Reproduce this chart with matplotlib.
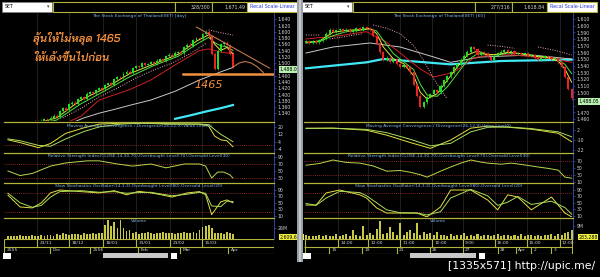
import numpy as np
import matplotlib
matplotlib.use("Agg")
import matplotlib.pyplot as plt
from matplotlib.patches import Rectangle
from matplotlib.transforms import blended_transform_factory
from matplotlib import font_manager

# ---------------- data: left panel (daily) ----------------
L_close = [1296, 1291, 1299, 1304, 1297, 1301, 1307, 1302, 1309, 1314,
           1309, 1316, 1320, 1317, 1326, 1332, 1328, 1346, 1355, 1351,
           1368, 1374, 1370, 1384, 1391, 1386, 1402, 1407, 1403, 1414,
           1419, 1416, 1430, 1436, 1431, 1448, 1455, 1452, 1466, 1473,
           1469, 1484, 1491, 1488, 1500, 1494, 1497, 1503, 1499, 1508,
           1512, 1507, 1522, 1527, 1524, 1533, 1536, 1531, 1550, 1559,
           1556, 1573, 1580, 1577, 1592, 1600, 1585, 1530, 1482, 1540,
           1560, 1565, 1558, 1530, 1488]
L_volume = [7, 8, 6, 7, 9, 8, 7, 8, 9, 7, 8, 9, 8, 10, 9, 8, 11, 10,
            13, 11, 10, 12, 11, 12, 10, 13, 12, 11, 14, 12, 13, 15,
            34, 44, 30, 39, 25, 44, 26, 18, 21,
            14, 16, 12, 15, 13, 17, 14, 12, 15, 13, 16, 14, 13, 15, 12, 14, 13, 16, 15, 14, 17, 15,
            22, 28, 30, 34, 26,
            15, 13, 14, 12, 16, 13, 11]

L_ma_idx = [0, 8, 16, 24, 32, 40, 48, 56, 62, 66, 68, 70, 72, 74]
L_ma_fast = [1295, 1303, 1325, 1382, 1420, 1466, 1497, 1528, 1570, 1590, 1560, 1540, 1550, 1530]
L_ma_mid = [1292, 1300, 1318, 1370, 1412, 1456, 1492, 1522, 1560, 1582, 1565, 1555, 1552, 1540]
L_red_idx = [0, 8, 16, 24, 30, 40, 47, 56, 63, 66, 70, 74]
L_red = [1270, 1280, 1295, 1330, 1382, 1415, 1446, 1500, 1540, 1545, 1535, 1530]
L_grey_idx = [20, 25, 30, 35, 40, 47, 55, 63, 70, 74]
L_grey = [1305, 1325, 1340, 1352, 1365, 1382, 1410, 1446, 1472, 1486]
L_cyan_idx = [55, 60, 65, 70, 74]
L_cyan = [1322, 1333, 1345, 1356, 1366]
L_sar_idx = [18, 24, 30, 36, 42, 48, 54, 60, 65, np.nan, 66, 68, 70, 72, 74]
L_sar = [1325, 1355, 1392, 1420, 1452, 1478, 1500, 1530, 1562, np.nan, 1606, 1601, 1597, 1593, 1589]
L_trend_idx = [62, 86]
L_trend = [1615, 1484]
L_proj_idx = [74, 76, 78, 80, 82, 84]
L_proj = [1487, 1500, 1505, 1500, 1488, 1470]
L_support = 1465

L_macd_idx = [0, 4, 10, 14, 19, 25, 30, 37, 44, 53, 63, 66, 68, 70, 72, 74]
L_macd = [6, 3, -2.5, 2, 13, 19, 23, 24, 24, 23, 23, 21, 10, 6, 5, -1.5]
L_macd_sig = [7, 5, 0, -1, 7, 15, 20, 23, 24, 23.5, 23, 22.5, 17, 12, 8, 4]
L_rsi_idx = [0, 4, 8, 14, 19, 26, 30, 36, 41, 47, 52, 58, 63, 65, 67, 69, 71, 73, 74]
L_rsi = [50, 37, 43, 64, 73, 79, 79, 70, 64, 70, 59, 70, 70, 64, 30, 47, 47, 39, 30]
L_st_idx = [0, 4, 8, 11, 14, 17, 24, 30, 35, 39, 43, 47, 50, 54, 59, 63, 65, 67, 70, 72, 74]
L_stk = [74, 37, 34, 50, 81, 90, 85, 81, 88, 75, 86, 81, 76, 68, 81, 85, 75, 13, 53, 59, 50]
L_std = [80, 50, 36, 42, 68, 85, 88, 83, 85, 80, 82, 83, 78, 72, 77, 83, 80, 40, 38, 55, 54]

L_row1_pos = [9.5, 20, 31.2, 42.1, 53.3, 63.8]
L_row1_lab = ["23/11", "18/12", "18/01", "31/01", "21/02", "15/03"]
L_row2_pos = [-1.3, 13.8, 27, 42.8, 56.6, 72.4]
L_row2_lab = ["2555", "Dec", "2556", "Feb", "Mar", "Apr"]

# ---------------- data: right panel (60 min) ----------------
R_close = [1576, 1574, 1577, 1575, 1578, 1580, 1588, 1594, 1591, 1593,
           1595, 1592, 1594, 1591, 1593, 1596, 1594, 1598, 1596, 1594,
           1585, 1574, 1560, 1549, 1552, 1546, 1550, 1543, 1538, 1541,
           1538, 1530, 1511, 1495, 1478, 1485, 1493, 1497, 1503, 1500,
           1510, 1518, 1524, 1530, 1538, 1542, 1549, 1555, 1561, 1568,
           1565, 1556, 1560, 1559, 1553, 1549, 1555, 1559, 1561, 1563,
           1560, 1562, 1558, 1559, 1557, 1559, 1555, 1556, 1552, 1549,
           1551, 1554, 1553, 1550, 1551, 1545, 1538, 1523, 1505, 1491]
R_volume = [2.5, 2, 1.8, 2.2, 3, 2, 2.5, 1.9, 2.4, 3.2,
            2, 2.6, 3.5, 2.2, 6, 3, 2.4, 9, 2.6, 4,
            3, 7, 12.5, 3.5, 4, 8, 5, 3, 11, 3,
            4.5, 6, 4, 11, 3, 5, 3.5, 4, 3, 5,
            2.5, 3, 2.2, 3.5, 2, 3, 2.6, 4, 2.2, 3,
            2.4, 3.6, 2, 2.8, 3, 2.2, 2.5, 3.4, 2, 2.6,
            3, 2.2, 2.8, 2, 3.2, 2.4, 2.6, 3, 2.2, 2.8,
            2.4, 3, 2.6, 3.2, 2.2, 3.5, 3, 4, 5, 6]

R_ma_idx = [0, 4, 8, 12, 16, 19, 21, 23, 26, 29, 32, 34, 36, 39, 42, 45, 48, 51, 54, 57, 60, 64, 68, 72, 75, 77, 79]
R_ma_fast = [1575, 1577, 1590, 1593, 1594, 1596, 1588, 1568, 1550, 1543, 1525, 1500, 1490, 1498, 1518, 1538,
             1556, 1562, 1556, 1557, 1560, 1558, 1554, 1552, 1547, 1535, 1515]
R_ma_mid = [1574, 1576, 1585, 1591, 1593, 1595, 1592, 1578, 1558, 1546, 1534, 1512, 1496, 1494, 1508, 1528,
            1548, 1558, 1557, 1556, 1559, 1558, 1555, 1553, 1549, 1542, 1528]
R_red_idx = [0, 10, 18, 24, 28, 34, 38, 44, 50, 56, 62, 68, 74, 79]
R_red = [1580, 1585, 1591, 1575, 1559, 1535, 1523, 1530, 1552, 1557, 1556, 1553, 1550, 1545]
R_grey_idx = [0, 8, 19, 28, 38, 43, 52, 67, 79]
R_grey = [1559, 1568, 1574, 1568, 1553, 1545, 1553, 1556, 1550]
R_cyan_idx = [0, 18, 23, 38, 43, 58, 79]
R_cyan = [1536, 1545, 1550, 1544, 1542, 1547, 1549]
R_sar_idx = [0, 2, 4, np.nan, 7, 12, 17, np.nan, 20, 24, 28, 32, 35, 38, 42, np.nan, 54, 58, 62, np.nan, 69, 74, 79]
R_sar = [1586, 1586, 1586, np.nan, 1580, 1584, 1588, np.nan, 1601, 1596, 1588, 1570, 1548, 1520, 1490, np.nan,
         1571, 1569, 1566, np.nan, 1568, 1563, 1556]

R_macd_idx = [0, 8, 18, 24, 31, 37, 43, 49, 54, 60, 67, 75, 79]
R_macd = [4.5, 4.5, 2, -4, -13, -20, -10, 4.5, 7, 5.7, 3.2, -1.7, -12]
R_macd_sig = [4, 4.5, 3, -1, -9, -17, -14, 0, 5.5, 6, 4, 0, -6]
R_rsi_idx = [0, 4, 8, 12, 16, 20, 24, 28, 31, 34, 36, 40, 43, 46, 49, 52, 54, 58, 61, 65, 69, 72, 75, 77, 79]
R_rsi = [57, 62, 72, 65, 63, 55, 40, 42, 37, 30, 23, 40, 52, 63, 72, 66, 63, 60, 63, 58, 52, 48, 43, 23, 20]
R_st_idx = [0, 3, 6, 10, 16, 18, 21, 24, 28, 33, 36, 40, 43, 49, 54, 57, 60, 63, 67, 73, 77, 79]
R_stk = [43, 43, 81, 90, 75, 65, 34, 18, 18, 18, 6, 37, 90, 90, 59, 28, 75, 68, 28, 68, 18, 6]
R_std = [48, 42, 65, 86, 82, 72, 50, 28, 19, 18, 12, 22, 65, 92, 72, 42, 52, 70, 45, 55, 35, 14]

R_row1_pos = [9.5, 18.4, 27.9, 37.4, 46.6, 56.1, 65.6, 75.4]
R_row1_lab = ["14:00", "12:00", "11:00", "10:00", "9:00", "16:00", "15:00", "12:00"]
R_row2_pos = [6.8, 16.6, 27, 36.8, 46.6, 57, 62.3, 67, 73]
R_row2_lab = ["15", "19", "21", "26", "27", "28", "Apr", "2", "3"]

# ---------------- style ----------------
W, H = 600, 277
OLIVE = "#b4b43c"
GRID = "#2c2c2c"
TICKC = "#d4d4d4"
AXBLUE = "#3450b4"
TITLEC = "#7fb6ee"
GREEN, RED = "#22dd22", "#ee2222"

names = {f.name for f in font_manager.fontManager.ttflist}
thai = next((n for n in ["Bai Jamjuree", "Chakra Petch", "Athiti", "Noto Sans Thai", "Sarabun"]
             if n in names), "DejaVu Sans")

fig = plt.figure(figsize=(6, 2.77), dpi=100, facecolor="black")


def box(x0, y0, x1, y1):
    return [x0 / W, 1 - y1 / H, (x1 - x0) / W, (y1 - y0) / H]


def rect(x0, y0, x1, y1, fc, ec="none", lw=0.6):
    fig.add_artist(Rectangle((x0 / W, 1 - y1 / H), (x1 - x0) / W, (y1 - y0) / H,
                             transform=fig.transFigure, facecolor=fc, edgecolor=ec, linewidth=lw))


def ftext(x, y, s, **kw):
    fig.text(x / W, 1 - y / H, s, **kw)


def pane(px0, px1, y0, y1, xlim, ylim, ticks, labels, title, seps, border=True):
    ax = fig.add_axes(box(px0, y0, px1, y1))
    ax.set_facecolor("black")
    ax.set_xlim(*xlim)
    ax.set_ylim(*ylim)
    ax.spines["left"].set_visible(False)
    ax.spines["bottom"].set_visible(False)
    ax.spines["top"].set_color(OLIVE if border else "black")
    ax.spines["top"].set_linewidth(0.9)
    ax.spines["right"].set_color(AXBLUE)
    ax.spines["right"].set_linestyle((0, (1, 1)))
    ax.spines["right"].set_linewidth(0.6)
    ax.set_xticks([])
    ax.yaxis.tick_right()
    ax.set_yticks(ticks)
    ax.set_yticklabels(labels)
    ax.tick_params(axis="y", length=1.5, width=0.5, color=AXBLUE, labelsize=3.3,
                   labelcolor=TICKC, pad=1)
    for s in seps:
        ax.axvline(s, color=GRID, lw=0.5, zorder=0)
    if title:
        ax.text(0.5, 1 - 1.5 / (y1 - y0), title, transform=ax.transAxes, ha="center",
                va="top", fontsize=3.2, color=TITLEC)
    return ax


def price_labels(ticks, hidden):
    return ["" if t in hidden else f"{t:,}" for t in ticks]


def candles(ax, closes, wick):
    c = np.array(closes, float)
    o = np.r_[c[0], c[:-1]]
    x = np.arange(len(c))
    col = np.where(c >= o, GREEN, RED)
    lo, hi = np.minimum(o, c), np.maximum(o, c)
    ax.vlines(x, lo - wick, hi + wick, colors=col, lw=0.5, zorder=3)
    ax.bar(x, np.maximum(hi - lo, wick * 0.4), bottom=lo, width=0.62, color=col, lw=0, zorder=3)


def side_box(ax, y, s, fc):
    tr = blended_transform_factory(ax.transAxes, ax.transData)
    ax.text(1.02, y, s, transform=tr, ha="left", va="center", fontsize=3.3, color="black",
            bbox=dict(facecolor=fc, edgecolor="none", pad=0.5), clip_on=False, zorder=5)


def osc(ax, idx, a, b):
    ax.plot(idx, a, color="#e4e040", lw=0.7)
    ax.plot(idx, b, color="#a8dc5a", lw=0.7)


def date_band(px0, px1, xlim, p1, l1, p2, l2, off):
    ax = fig.add_axes(box(px0, 239, px1, 254))
    ax.set_axis_off()
    ax.set_xlim(*xlim)
    ax.set_ylim(0, 2)
    ax.hlines([0.06, 1, 1.94], xlim[0], xlim[1], color=OLIVE, lw=0.8)
    ax.vlines([xlim[0] + 0.15, xlim[1] - 0.15], 0, 2, color=OLIVE, lw=0.8)
    ax.vlines(p1, 1, 2, color=OLIVE, lw=0.8)
    ax.vlines(p2, 0, 1, color=OLIVE, lw=0.8)
    for p, s in zip(p1, l1):
        ax.text(p + off, 1.5, s, va="center", fontsize=3.2, color=TICKC)
    for p, s in zip(p2, l2):
        ax.text(p + off, 0.5, s, va="center", fontsize=3.2, color=TICKC)


def toolbar(x0, count, last):
    rect(x0 + 2, 2, x0 + 52, 12, "white", "#808080")
    ftext(x0 + 5, 7, "SET", fontsize=3.4, color="black", va="center")
    ftext(x0 + 48, 7, "\u25be", fontsize=3.4, color="#404040", va="center", ha="center")
    rect(x0 + 53, 2, x0 + 175, 12, "black", OLIVE, 0.8)
    rect(x0 + 175, 2, x0 + 212, 12, "black", OLIVE, 0.8)
    rect(x0 + 212, 2, x0 + 247, 12, "black", OLIVE, 0.8)
    rect(x0 + 247, 2, x0 + 297, 12, "white", OLIVE, 0.8)
    ftext(x0 + 210, 7, count, fontsize=3.4, color=TICKC, va="center", ha="right")
    ftext(x0 + 245, 7, last, fontsize=3.4, color=TICKC, va="center", ha="right")
    ftext(x0 + 272, 7, "Recal Scale-Linear", fontsize=3.5, color="#2a3ad8", va="center", ha="center")


def scroll_row(x0, t0, t1):
    rect(x0 + 3, 253, x0 + 11, 259, "white")
    rect(x0 + t0, 253, x0 + t1, 258, "#c8c8c8")
    rect(x0 + t1 + 3, 253, x0 + t1 + 9, 259, "white")


# ---------------- left panel ----------------
L_xlim = (-1.3, 87.5)
LX0, LX1 = 4, 274
seps_L = L_row1_pos
toolbar(0, "328/300", "1,671.49")

L_ticks = list(range(1340, 1641, 20))
ax = pane(LX0, LX1, 12, 121, L_xlim, (1315, 1663), L_ticks, price_labels(L_ticks, {1480}),
          "The Stock Exchange of Thailand(SET) [day]", seps_L, border=False)
ax.plot(L_cyan_idx, L_cyan, color="#40e8f4", lw=1.6, zorder=2)
ax.plot(L_grey_idx, L_grey, color="#c8c8c8", lw=0.7, zorder=2)
ax.plot(L_red_idx, L_red, color="#d02020", lw=0.7, zorder=2)
ax.plot(L_sar_idx, L_sar, color="#e8a8b8", lw=0.7, ls=(0, (1, 1.5)), zorder=2)
ax.plot(L_ma_idx, L_ma_mid, color="#50e040", lw=0.7, zorder=2)
ax.plot(L_ma_idx, L_ma_fast, color="#e8e040", lw=0.7, zorder=2)
candles(ax, L_close, 4)
ax.plot(L_trend_idx, L_trend, color="#c07850", lw=0.8, zorder=4)
ax.plot(L_proj_idx, L_proj, color="#c07850", lw=0.8, zorder=4)
ax.plot([57.6, 87.2], [L_support, L_support], color="#f29040", lw=1.8, zorder=4)
ax.text(61.5, 1431, "1465", fontsize=8, style="italic", color="#f29040", va="center", zorder=5)
side_box(ax, 1480, "1,488.05", "#b8f0b0")

ax = pane(LX0, LX1, 122, 152, L_xlim, (-7.2, 25.3), [20, 12, 4, -4], ["20", "12", "4", "-4"],
          "Moving Average Convergence / Divergence(26,12,9),Value Line(0)", seps_L)
ax.axhline(0, color="#b03030", lw=0.6, ls=(0, (1, 1.5)))
osc(ax, L_macd_idx, L_macd, L_macd_sig)

ax = pane(LX0, LX1, 153, 182, L_xlim, (18.6, 101.4), [90, 70, 50, 30], ["90", "70", "50", "30"],
          "Relative Strength Index(CLOSE,14,30,70),Overbought Level(70),Oversold Level(30)", seps_L)
for lv in (70, 30):
    ax.axhline(lv, color="#b03030", lw=0.6, ls=(0, (1, 1.5)))
ax.plot(L_rsi_idx, L_rsi, color="#b8d84a", lw=0.7)

ax = pane(LX0, LX1, 183, 217, L_xlim, (5.6, 112), [90, 70, 50, 30, 10], ["90", "70", "50", "30", "10"],
          "Slow Stochastics Oscillator(14,3,3),Overbought Level(80),Oversold Level(20)", seps_L)
for lv in (80, 20):
    ax.axhline(lv, color="#b03030", lw=0.6, ls=(0, (1, 1.5)))
osc(ax, L_st_idx, L_stk, L_std)

ax = pane(LX0, LX1, 218, 239, L_xlim, (0, 49.6), [26], ["26M"], "Volume", seps_L)
ax.bar(np.arange(len(L_volume)), L_volume, width=0.6, color="#c8c844", lw=0)
side_box(ax, 4, "2,609,601", "#f0f040")

date_band(LX0, LX1, L_xlim, L_row1_pos, L_row1_lab, L_row2_pos, L_row2_lab, 0.9)
scroll_row(0, 103, 168)

thai_font = dict(family=[thai, "DejaVu Sans"], style="italic", weight="semibold")
ftext(33, 38, "ลุ้นให้ไม่หลุด 1465", fontsize=8, color="#f29040", va="center", **thai_font)
ftext(33, 58, "ให้เด้งขึ้นไปก่อน", fontsize=8, color="#f29040", va="center", **thai_font)

# ---------------- right panel ----------------
R_xlim = (-0.6, 79.4)
RX0, RX1 = 304, 573
seps_R = R_row1_pos
toolbar(300, "277/316", "1,618.84")
rect(297, 0, 303, 262, "#9aa0a8")
rect(299, 0, 301, 262, "#c4c8cc")

R_ticks = list(range(1460, 1611, 10))
ax = pane(RX0, RX1, 12, 121, R_xlim, (1457, 1620.5), R_ticks, price_labels(R_ticks, {1480, 1490}),
          "The Stock Exchange of Thailand(SET) [60]", seps_R, border=False)
ax.plot(R_cyan_idx, R_cyan, color="#40e8f4", lw=1.6, zorder=2)
ax.plot(R_grey_idx, R_grey, color="#c8c8c8", lw=0.7, zorder=2)
ax.plot(R_red_idx, R_red, color="#d02020", lw=0.7, zorder=2)
ax.plot(R_sar_idx, R_sar, color="#e8a8b8", lw=0.7, ls=(0, (1, 1.5)), zorder=2)
ax.plot(R_ma_idx, R_ma_mid, color="#50e040", lw=0.7, zorder=2)
ax.plot(R_ma_idx, R_ma_fast, color="#e8e040", lw=0.7, zorder=2)
candles(ax, R_close, 2)
side_box(ax, 1486, "1,488.05", "#b8f0b0")

ax = pane(RX0, RX1, 122, 152, R_xlim, (-24.5, 12), [2, -10, -22], ["2", "-10", "-22"],
          "Moving Average Convergence / Divergence(26,12,9),Value Line(0)", seps_R)
osc(ax, R_macd_idx, R_macd, R_macd_sig)

ax = pane(RX0, RX1, 153, 182, R_xlim, (9.1, 92), [70, 50, 30, 10], ["70", "50", "30", "10"],
          "Relative Strength Index(CLOSE,14,30,70),Overbought Level(70),Oversold Level(30)", seps_R)
for lv in (70, 30):
    ax.axhline(lv, color="#b03030", lw=0.6, ls=(0, (1, 1.5)))
ax.plot(R_rsi_idx, R_rsi, color="#b8d84a", lw=0.7)

ax = pane(RX0, RX1, 183, 217, R_xlim, (5.6, 112), [90, 70, 50, 30, 10], ["90", "70", "50", "30", "10"],
          "Slow Stochastics Oscillator(14,3,3),Overbought Level(80),Oversold Level(20)", seps_R)
for lv in (80, 20):
    ax.axhline(lv, color="#b03030", lw=0.6, ls=(0, (1, 1.5)))
osc(ax, R_st_idx, R_stk, R_std)

ax = pane(RX0, RX1, 218, 239, R_xlim, (0, 14.5), [9], ["9M"], "Volume", seps_R)
ax.bar(np.arange(len(R_volume)), R_volume, width=0.6, color="#c8c844", lw=0)
side_box(ax, 1.2, "283,288", "#f0f040")

date_band(RX0, RX1, R_xlim, R_row1_pos, R_row1_lab, R_row2_pos, R_row2_lab, 0.7)
scroll_row(300, 110, 176)

ftext(595, 266, "[1335x571] http://upic.me/", fontsize=7.8, color="white", ha="right", va="center")

fig.savefig("out.png", dpi=100, facecolor="black")
